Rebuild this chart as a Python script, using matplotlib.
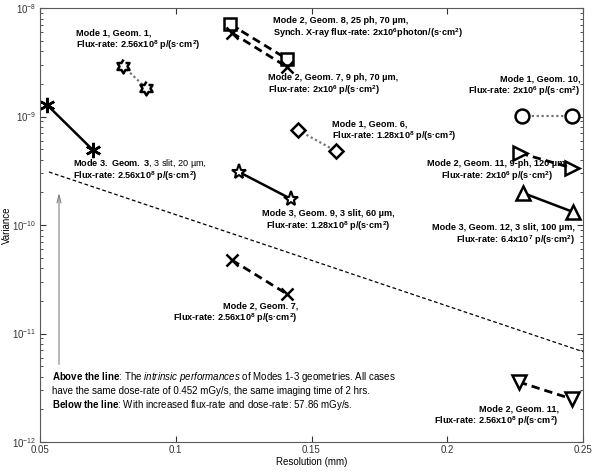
import numpy as np
import matplotlib
matplotlib.use("Agg")
import matplotlib.pyplot as plt

plt.rcParams["font.family"] = ["Liberation Sans", "DejaVu Sans"]
plt.rcParams["font.size"] = 7
plt.rcParams["mathtext.fontset"] = "custom"
plt.rcParams["mathtext.rm"] = "Liberation Sans"
plt.rcParams["mathtext.bf"] = "Liberation Sans:bold"
plt.rcParams["mathtext.it"] = "Liberation Sans:italic"

# Resolution (mm) / variance pairs
g1_res = [0.0806, 0.0890]
g1_var = [2.92e-9, 1.83e-9]
g3_res = [0.0526, 0.0695]
g3_var = [1.28e-9, 4.9e-10]
g8_res = [0.120, 0.141]
g8_var = [7.1e-9, 3.39e-9]
g7_res = [0.1207, 0.141]
g7_var = [5.9e-9, 2.86e-9]
g10_res = [0.2275, 0.246]
g10_var = [1.01e-9, 1.01e-9]
g6_res = [0.145, 0.159]
g6_var = [7.5e-10, 4.8e-10]
g11_res = [0.2268, 0.246]
g11_var = [4.6e-10, 3.35e-10]
g12_res = [0.228, 0.2463]
g12_var = [1.97e-10, 1.32e-10]
g9_res = [0.1233, 0.1424]
g9_var = [3.08e-10, 1.74e-10]
g7_low_res = [0.1207, 0.141]
g7_low_var = [4.75e-11, 2.31e-11]
g11_low_res = [0.2264, 0.246]
g11_low_var = [3.57e-12, 2.49e-12]

# dividing line and arrow
split_res = [0.0533, 0.25]
split_var = [3.08e-10, 6.8e-12]
arrow_res = 0.057
arrow_var = [4.9e-12, 2.1e-10]

xticks = [0.05, 0.1, 0.15, 0.2, 0.25]
xticklabels = ["0.05", "0.1", "0.15", "0.2", "0.25"]


def hexagram():
    """Outline of a six-pointed star as marker vertices"""
    ang = np.deg2rad(90 + 30 * np.arange(12))
    r = np.where(np.arange(12) % 2 == 0, 1.0, 1 / np.sqrt(3))
    return list(zip(r * np.cos(ang), r * np.sin(ang)))


fig = plt.figure(figsize=(6, 4.72), dpi=100)
ax = fig.add_axes([40 / 600, 30 / 472, 543 / 600, 434 / 472])
ax.set_yscale("log")

dotted = dict(color="0.45", lw=1.6, ls=(0, (1, 1.2)))
dashed = dict(color="black", lw=2.0, ls=(0, (3, 1.8)))
solid = dict(color="black", lw=1.8, ls="-")
mk = dict(mfc="white", mec="black", mew=1.8, ms=9)

ax.plot(g1_res, g1_var, marker=hexagram(), **dotted, **{**mk, "ms": 10})
ax.plot(g3_res, g3_var, marker=(6, 2, 0), **solid, **{**mk, "ms": 11})
ax.plot(g8_res, g8_var, marker="s", **dashed, **mk)
ax.plot(g7_res, g7_var, marker="x", **dashed, **{**mk, "ms": 8})
ax.plot(g10_res, g10_var, marker="o", **dotted, **{**mk, "ms": 10})
ax.plot(g6_res, g6_var, marker="D", **dotted, **{**mk, "ms": 7.5})
ax.plot(g11_res, g11_var, marker=">", **dashed, **{**mk, "ms": 10})
ax.plot(g12_res, g12_var, marker="^", **solid, **{**mk, "ms": 10})
ax.plot(g9_res, g9_var, marker="*", **solid, **{**mk, "ms": 11, "mew": 1.5})
ax.plot(g7_low_res, g7_low_var, marker="x", **dashed, **{**mk, "ms": 8})
ax.plot(g11_low_res, g11_low_var, marker="v", **dashed, **{**mk, "ms": 10})

ax.plot(split_res, split_var, color="black", lw=0.9, ls=(0, (3, 2)))
ax.annotate("", xy=(arrow_res, arrow_var[1]), xytext=(arrow_res, arrow_var[0]),
            arrowprops=dict(arrowstyle="->,head_length=0.8,head_width=0.2",
                            color="0.5", lw=0.8))


def px(x, y):
    """Reference pixel position -> axes fraction"""
    return ((x - 40) / 543, (442 - y) / 434)


sup = lambda s: "$^{\\mathbf{" + s + "}}$"
cm2 = "p/(s\u00b7cm" + sup("2") + ")"
bold = dict(transform=ax.transAxes, fontweight="bold", fontsize=6.6, va="center",
            linespacing=1.05)

ax.text(*px(76, 40), "Mode 1, Geom. 1,\nFlux-rate: 2.56x10" + sup("8") + " " + cm2,
        ha="left", **bold)
ax.text(*px(73, 164), r"$\mathbf{Mode\ 3.\ Geom.\ 3}$" + ", 3 slit, 20 \u00b5m,",
        transform=ax.transAxes, fontsize=6.6, ha="left", va="center")
ax.text(*px(73, 176), "Flux-rate: 2.56x10" + sup("8") + " " + cm2, ha="left", **bold)
ax.text(*px(273, 28), "Mode 2, Geom. 8, 25 ph, 70 \u00b5m,\nSynch. X-ray flux-rate: 2x10"
        + sup("6") + "photon/(s\u00b7cm" + sup("2") + ")", ha="left", **bold)
ax.text(*px(268, 85), "Mode 2, Geom. 7, 9 ph, 70 \u00b5m,\nFlux-rate: 2x10" + sup("6")
        + " " + cm2, ha="left", **bold)
ax.text(*px(580, 86), "Mode 1, Geom. 10,\nFlux-rate: 2x10" + sup("6") + " " + cm2,
        ha="right", multialignment="right", **bold)
ax.text(*px(332, 131), "Mode 1, Geom. 6,\nFlux-rate: 1.28x10" + sup("8") + " " + cm2,
        ha="left", **bold)
ax.text(*px(497, 171), "Mode 2, Geom. 11, 9-ph, 120 \u00b5m,\nFlux-rate: 2x10" + sup("6")
        + " " + cm2, ha="center", multialignment="center", **bold)
ax.text(*px(328, 221), "Mode 3, Geom. 9, 3 slit, 60 \u00b5m,\nFlux-rate: 1.28x10" + sup("8")
        + " " + cm2, ha="center", multialignment="center", **bold)
ax.text(*px(575, 235), "Mode 3, Geom. 12, 3 slit, 100 \u00b5m,\nFlux-rate: 6.4x10" + sup("7")
        + " " + cm2, ha="right", multialignment="right", **bold)
ax.text(*px(298, 313), "Mode 2, Geom. 7,\nFlux-rate: 2.56x10" + sup("8") + " " + cm2,
        ha="right", multialignment="right", **bold)
ax.text(*px(559, 416), "Mode 2, Geom. 11,\nFlux-rate: 2.56x10" + sup("8") + " " + cm2,
        ha="right", multialignment="right", **bold)

note = (r"$\mathbf{Above\ the\ line}$: The $\mathit{intrinsic\ performances}$"
        " of Modes 1-3 geometries. All cases\n"
        "have the same dose-rate of 0.452 mGy/s, the same imaging time of 2 hrs.\n"
        r"$\mathbf{Below\ the\ line}$: With increased flux-rate and dose-rate: 57.86 mGy/s.")
ax.text(*px(52, 391), note, transform=ax.transAxes, fontsize=7, ha="left",
        va="center", linespacing=1.2)

ax.set_xlim(0.05, 0.25)
ax.set_ylim(1e-12, 1e-8)
ax.set_xticks(xticks)
ax.set_xticklabels(xticklabels)
ax.set_xlabel("Resolution (mm)", fontsize=7, labelpad=1)
ax.set_ylabel("Variance", fontsize=7)
ax.yaxis.set_label_coords(-0.051, 0.5)
ax.tick_params(which="both", direction="in", top=True, right=True, labelsize=7,
               colors="0.2")
ax.tick_params(which="major", length=4, pad=2.5)
ax.tick_params(which="minor", length=2)
for s in ax.spines.values():
    s.set_color("0.35")
    s.set_linewidth(0.8)

fig.savefig("out.png", dpi=100)
